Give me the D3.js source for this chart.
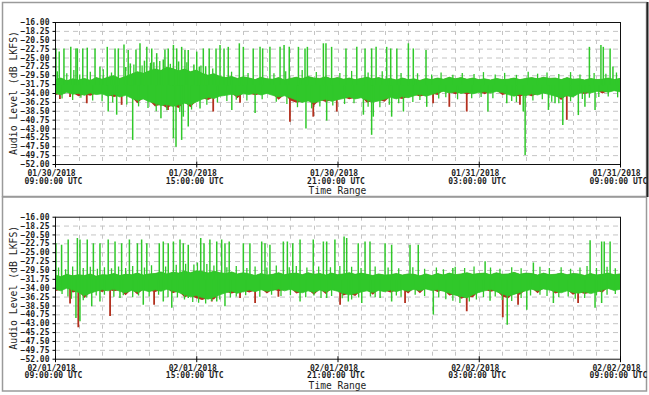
<!DOCTYPE html>
<html>
<head>
<meta charset="utf-8">
<script src="https://cdn.jsdelivr.net/npm/d3@7"></script>
<style>
    body { margin: 0; background: #fff; }
    svg text { fill: #1e1e1e; }
    .tick text { font-family: "DejaVu Sans Mono", monospace; font-size: 8px; font-weight: bold; }
</style>
</head>
<body>
<svg id="chart"></svg>
<script>
// y axis ticks (dB LKFS)
const yTicks = [-16, -18.25, -20.5, -22.75, -25, -27.25, -29.5, -31.75, -34,
    -36.25, -38.5, -40.75, -43, -45.25, -47.5, -49.75, -52];
// x ticks, hours after the start of each panel
const xTickHours = [0, 6, 12, 18, 24];

// panel 1: 01/30/2018 09:00 -> 01/31/2018 09:00, 15 min envelope samples
const p1Top = [-30.6, -30.2, -30.9, -30.4, -30.7,
    -30.3, -30.8, -30.1, -30.5, -30.0, -29.6, -30.3, -29.8,
    -29.2, -28.6, -29.0, -28.4, -27.9, -28.3, -27.5, -27.8,
    -28.4, -27.9, -28.6, -28.2, -29.0, -29.5, -29.1, -29.8,
    -30.1, -29.8, -30.3, -29.9, -30.2, -30.6, -30.0, -30.4,
    -30.5, -30.1, -30.7, -30.3, -30.0, -30.4, -29.8, -30.2,
    -30.3, -29.9, -30.4, -30.1, -30.5, -30.2, -30.6, -30.3,
    -30.0, -30.4, -30.1, -30.5, -30.3, -30.7, -30.2, -30.6,
    -30.4, -30.8, -30.3, -30.6, -30.2, -30.5, -30.0, -30.4,
    -30.1, -30.5, -30.2, -30.6, -30.4, -30.7, -30.3, -30.6,
    -30.5, -30.2, -30.6, -30.3, -30.1, -30.4, -30.0, -30.3,
    -30.2, -30.6, -30.1, -30.5, -30.4, -30.7, -30.3, -30.6,
    -30.5, -30.2, -30.6, -30.3];
const p1Bottom = [-34.0, -34.5, -33.8, -34.3, -34.1,
    -34.6, -34.0, -34.4, -34.2, -34.8, -34.3, -35.0, -34.6,
    -35.3, -35.9, -35.5, -36.2, -36.6, -37.2, -36.9, -37.4,
    -37.0, -36.6, -36.9, -36.3, -35.6, -35.1, -35.4, -34.8,
    -34.6, -34.3, -34.7, -34.2, -34.4, -34.0, -34.5, -34.1,
    -34.6, -35.0, -34.7, -35.2, -35.8, -36.4, -36.0, -36.5,
    -36.0, -35.6, -36.1, -35.7, -35.4, -35.0, -35.5, -35.2,
    -35.8, -36.3, -36.0, -35.6, -35.1, -35.5, -34.9, -35.2,
    -34.7, -34.3, -34.8, -34.4, -33.9, -33.6, -34.0, -33.7,
    -34.1, -33.8, -34.2, -33.9, -33.7, -34.0, -33.6, -33.9,
    -34.4, -34.8, -34.3, -34.7, -34.2, -34.5, -34.0, -34.4,
    -34.8, -35.2, -34.7, -35.0, -34.1, -33.7, -34.0, -33.6,
    -33.5, -33.8, -33.4, -33.7];
const p1Red = [-34.6, -34.2, -33.5, -34.0, -34.8,
    -34.3, -34.7, -34.1, -33.9, -34.5, -35.0, -34.7, -34.3,
    -35.0, -36.6, -35.2, -35.9, -37.4, -36.9, -37.8, -37.1,
    -37.8, -36.3, -37.6, -36.0, -35.3, -35.8, -35.1, -34.5,
    -34.3, -34.0, -35.3, -33.9, -34.1, -34.6, -34.2, -33.8,
    -34.3, -35.7, -34.4, -35.9, -36.5, -36.1, -35.7, -37.2,
    -35.7, -36.3, -35.8, -35.4, -35.1, -35.6, -35.2, -34.9,
    -36.5, -36.0, -35.7, -36.2, -34.8, -35.2, -35.5, -34.9,
    -34.4, -34.9, -34.5, -34.1, -34.5, -33.3, -33.7, -34.3,
    -33.8, -34.4, -33.9, -33.6, -34.3, -33.7, -33.3, -34.5,
    -34.1, -34.5, -34.9, -34.4, -34.8, -34.2, -33.7, -34.1,
    -34.5, -35.8, -34.4, -34.7, -33.8, -34.3, -33.7, -33.3,
    -34.1, -33.5, -33.1, -33.4];
// [hours after start, dB]
const p1Up = [[0.04, -22.7], [0.18, -23.5], [0.38, -22.7], [0.67, -22.3], [0.89, -22.7], [0.95, -22.7],
    [1.18, -22.7], [1.37, -22.5], [1.70, -22.7], [1.91, -27.3], [2.22, -22.3], [2.55, -22.7],
    [2.69, -22.7], [2.93, -21.7], [3.11, -23.1], [3.2, -26.5], [3.44, -23.0], [3.61, -21.4],
    [3.8, -25.8], [3.90, -22.3], [4.11, -22.7], [4.2, -26.2], [4.32, -23.9], [4.6, -25.5],
    [4.67, -23.0], [4.81, -22.7], [5.03, -21.8], [5.17, -22.7], [5.25, -26.0], [5.38, -22.3],
    [5.52, -23.1], [5.66, -23.1], [5.9, -26.8], [6.02, -23.5], [6.13, -27.3], [6.30, -22.7],
    [6.4, -27.2], [6.55, -22.7], [6.84, -22.7], [7.01, -21.8], [7.18, -22.7], [7.36, -22.3],
    [7.83, -21.4], [8.00, -22.3], [8.42, -22.7], [8.71, -22.3], [8.82, -22.7], [9.13, -22.3],
    [9.56, -22.3], [9.73, -21.8], [9.95, -22.3], [10.34, -22.3], [10.62, -22.7], [10.72, -22.3],
    [11.40, -21.4], [11.51, -21.4], [11.75, -22.3], [12.36, -22.7], [12.82, -22.3], [13.17, -22.7],
    [13.45, -22.7], [13.64, -22.3], [14.09, -22.3], [14.26, -22.7], [14.52, -22.7], [15.01, -21.4],
    [15.22, -22.7], [15.76, -23.1], [22.70, -22.3], [23.19, -21.8], [23.29, -22.3], [23.58, -22.7],
    [23.70, -27.3]];
const p1Down = [[2.26, -38.7], [2.62, -39.5], [3.30, -45.9], [4.50, -40.4], [5.03, -45.5], [5.14, -47.6],
    [5.38, -45.9], [5.45, -40.0], [5.66, -42.5], [6.16, -37.9], [7.51, -38.3], [8.50, -39.1],
    [10.66, -43.0], [11.54, -41.0], [13.10, -39.5], [13.45, -44.6], [13.52, -40.0], [14.30, -40.0],
    [14.80, -38.7], [15.79, -37.5], [18.39, -38.7], [19.19, -36.6], [19.89, -38.7], [19.97, -49.7],
    [20.96, -38.3], [21.24, -36.6], [21.57, -42.1], [22.23, -39.6], [22.51, -37.5], [22.94, -38.3]];
// short excursions that make the ragged band edges
const p1UpShort = [[0.1, -28.5], [0.5, -29.0], [0.8, -28.2], [1.05, -29.3], [1.5, -28.6], [2.05, -28.0],
    [2.4, -28.8], [3.0, -27.4], [3.35, -26.8], [3.7, -27.0], [4.05, -26.3], [4.45, -25.9], [4.9, -26.6],
    [5.6, -26.2], [6.2, -27.0], [6.7, -27.8], [7.5, -28.6], [8.2, -28.9], [9.3, -29.0], [9.8, -28.5],
    [10.5, -28.2], [11.1, -28.7], [12.1, -28.9], [12.6, -28.4], [13.3, -28.8], [13.9, -28.5], [14.7, -28.9],
    [15.4, -29.0], [16.0, -29.3], [16.4, -28.8], [16.9, -29.4], [17.3, -28.9], [17.8, -29.2], [18.2, -28.7],
    [18.7, -29.3], [19.1, -28.9], [19.6, -29.4], [20.1, -28.6], [20.5, -29.1], [20.9, -28.8], [21.4, -29.2],
    [21.9, -28.7], [22.3, -29.3], [22.9, -28.9], [23.4, -29.1], [23.85, -28.8]];
const p1DownShort = [[0.3, -35.4], [0.75, -35.8], [1.1, -35.2], [1.6, -35.9], [2.0, -36.1], [2.45, -36.4],
    [3.05, -36.9], [3.55, -37.4], [3.95, -37.8], [4.3, -38.6], [4.75, -38.4], [5.3, -38.8], [5.8, -38.2],
    [6.45, -37.0], [6.9, -36.4], [7.3, -36.0], [7.7, -35.7], [8.15, -35.9], [8.8, -35.6], [9.4, -36.2],
    [9.85, -36.8], [10.3, -37.6], [10.9, -37.9], [11.25, -37.4], [11.8, -37.2], [12.3, -36.8], [12.7, -36.6],
    [13.3, -37.5], [13.8, -37.6], [14.2, -37.0], [14.6, -36.6], [15.2, -36.3], [15.5, -35.8], [16.3, -35.4],
    [16.6, -35.1], [17.1, -35.6], [17.7, -35.3], [18.1, -35.0], [18.6, -35.3], [19.4, -36.0], [19.6, -36.3],
    [20.3, -35.9], [20.7, -35.6], [21.1, -36.2], [21.4, -36.6], [21.9, -36.1], [22.4, -35.5], [22.7, -35.2],
    [23.1, -35.0], [23.5, -34.9], [23.9, -35.1]];
const p1RedDips = [[0.21, -35.5], [0.64, -35.0], [1.35, -36.6], [2.83, -37.0], [4.80, -38.3], [6.72, -38.7],
    [7.86, -36.5], [9.98, -41.3], [10.97, -40.0], [11.97, -38.7], [16.06, -36.6], [16.75, -37.5],
    [17.49, -38.7], [19.75, -37.0], [21.74, -40.8]];

// panel 2: 02/01/2018 09:00 -> 02/02/2018 09:00
const p2Top = [-30.8, -31.2, -30.6, -31.0, -30.7,
    -30.9, -30.5, -31.1, -30.7, -30.8, -30.4, -30.9, -30.6,
    -30.7, -30.3, -30.8, -30.5, -30.4, -30.0, -30.5, -30.1,
    -30.3, -29.8, -30.2, -29.7, -29.9, -30.3, -29.8, -30.2,
    -30.4, -30.0, -30.5, -30.2, -30.5, -30.9, -30.4, -30.8,
    -30.6, -30.2, -30.7, -30.4, -30.3, -30.7, -30.2, -30.6,
    -30.4, -30.8, -30.3, -30.7, -30.5, -30.2, -30.6, -30.3,
    -30.6, -30.9, -30.5, -30.8, -30.7, -30.4, -30.8, -30.5,
    -30.6, -31.0, -30.5, -30.9, -30.4, -30.8, -30.3, -30.7,
    -30.5, -30.2, -30.6, -30.4, -30.3, -30.7, -30.2, -30.6,
    -30.5, -30.1, -30.6, -30.3, -30.4, -30.8, -30.3, -30.7,
    -30.6, -30.3, -30.7, -30.4, -30.5, -30.9, -30.4, -30.8,
    -30.6, -30.3, -30.7, -30.5];
const p2Bottom = [-34.3, -34.8, -34.1, -34.6, -35.2,
    -36.0, -35.4, -34.9, -34.5, -34.8, -34.3, -34.9, -35.3,
    -34.7, -35.1, -34.6, -35.0, -34.5, -34.9, -34.4, -34.8,
    -35.2, -35.8, -36.3, -36.0, -36.5, -36.9, -36.4, -35.8,
    -35.3, -34.9, -35.4, -35.0, -34.6, -35.0, -34.5, -34.9,
    -34.7, -34.3, -34.8, -34.4, -34.9, -35.3, -34.8, -35.2,
    -34.6, -35.0, -34.5, -34.9, -35.4, -35.8, -35.5, -35.1,
    -34.8, -35.2, -34.7, -35.0, -34.6, -35.0, -34.5, -34.9,
    -34.4, -34.8, -34.3, -34.7, -34.5, -34.9, -35.4, -35.9,
    -36.2, -36.6, -35.8, -35.2, -34.8, -34.4, -35.0, -35.6,
    -36.1, -35.7, -35.2, -34.8, -34.4, -34.8, -34.3, -34.6,
    -34.9, -35.3, -34.8, -35.2, -35.4, -35.0, -35.5, -35.1,
    -34.6, -34.2, -34.7, -34.4];
const p2Red = [-34.9, -34.5, -33.8, -35.2, -34.9,
    -36.6, -35.1, -34.6, -35.1, -34.5, -34.9, -34.6, -35.9,
    -34.4, -35.7, -34.3, -34.7, -35.1, -34.6, -34.1, -35.4,
    -34.9, -36.4, -36.0, -36.7, -37.1, -36.6, -37.0, -35.5,
    -35.0, -35.5, -35.1, -34.7, -35.2, -34.7, -34.2, -35.5,
    -34.4, -34.9, -34.5, -34.1, -35.5, -35.0, -34.5, -35.8,
    -34.3, -35.6, -34.2, -34.6, -36.0, -35.5, -36.1, -34.8,
    -34.5, -35.8, -34.4, -34.7, -35.2, -34.7, -34.2, -35.5,
    -34.1, -35.4, -34.0, -34.4, -35.1, -34.6, -36.0, -35.6,
    -36.8, -36.3, -36.4, -34.9, -34.5, -35.0, -34.7, -36.2,
    -36.7, -35.4, -35.8, -34.5, -34.1, -35.4, -34.0, -34.3,
    -35.5, -35.0, -34.5, -35.8, -35.1, -35.6, -35.2, -34.8,
    -35.2, -33.9, -34.4, -34.1];
const p2Up = [[0.04, -22.7], [0.28, -23.1], [0.56, -21.8], [0.95, -21.4], [1.06, -21.8], [1.37, -21.8],
    [1.63, -22.7], [1.91, -22.7], [2.26, -21.8], [2.55, -22.3], [2.83, -22.7], [3.16, -21.8],
    [3.50, -22.7], [3.68, -21.8], [3.90, -22.7], [4.43, -22.7], [4.60, -22.3], [4.81, -22.7],
    [5.03, -22.3], [5.31, -21.8], [5.45, -22.7], [5.66, -23.1], [6.19, -21.4], [6.33, -22.7],
    [6.58, -21.8], [6.87, -22.3], [7.08, -21.8], [7.22, -22.7], [7.40, -22.3], [8.00, -22.7],
    [8.28, -22.7], [8.78, -22.3], [8.92, -22.7], [9.13, -23.1], [9.70, -22.3], [9.87, -22.3],
    [10.10, -22.7], [10.41, -21.8], [10.97, -21.8], [11.40, -22.3], [11.54, -22.3], [11.89, -21.8],
    [12.28, -21.0], [12.39, -21.4], [12.88, -22.7], [13.17, -22.3], [13.38, -22.3], [14.02, -22.7],
    [14.30, -23.1], [15.08, -23.1], [15.43, -23.1], [16.9, -29.0], [18.27, -27.3], [20.32, -27.6],
    [22.73, -22.0], [23.22, -22.3], [23.33, -22.3], [23.58, -22.3]];
const p2Down = [[0.89, -41.7], [1.06, -42.5], [1.56, -38.7], [1.91, -37.5], [2.76, -36.6], [3.75, -38.3],
    [4.60, -37.5], [4.96, -39.1], [5.66, -36.6], [6.87, -37.5], [7.22, -38.7], [10.41, -37.5],
    [11.54, -36.6], [12.46, -37.5], [13.03, -37.9], [13.81, -36.6], [14.30, -37.5], [16.07, -40.8],
    [18.48, -37.3], [19.21, -43.4], [20.04, -39.6], [21.17, -37.9], [22.94, -39.1], [23.22, -37.9]];
const p2UpShort = [[0.15, -28.9], [0.45, -29.3], [0.75, -28.6], [1.2, -29.0], [1.5, -28.7], [1.8, -29.2],
    [2.1, -28.8], [2.4, -29.1], [2.7, -28.6], [3.0, -29.0], [3.3, -28.5], [3.8, -28.9], [4.1, -28.3],
    [4.7, -28.6], [5.15, -28.2], [5.55, -27.9], [5.9, -28.1], [6.05, -27.6], [6.45, -28.0], [6.75, -28.4],
    [7.3, -28.8], [7.7, -28.5], [8.15, -29.0], [8.5, -28.6], [9.0, -28.9], [9.4, -28.4], [9.95, -28.8],
    [10.25, -28.5], [10.7, -28.9], [11.2, -28.6], [11.7, -28.8], [12.1, -28.5], [12.6, -28.7], [13.0, -29.0],
    [13.6, -28.6], [14.15, -28.9], [14.6, -29.1], [15.2, -28.8], [15.7, -29.2], [16.2, -28.9], [16.5, -29.3],
    [17.0, -28.7], [17.4, -29.0], [17.8, -28.6], [18.5, -28.9], [18.9, -29.2], [19.4, -28.8], [19.8, -29.1],
    [20.6, -28.7], [21.0, -29.0], [21.5, -28.8], [21.9, -29.2], [22.3, -28.9], [22.6, -28.5], [23.0, -29.0],
    [23.45, -28.7], [23.8, -29.1]];
const p2DownShort = [[0.3, -35.6], [0.55, -36.2], [0.7, -36.8], [1.2, -37.2], [1.35, -36.5], [1.75, -36.0],
    [2.1, -35.8], [2.5, -36.3], [2.9, -35.9], [3.3, -36.4], [3.55, -36.0], [4.0, -36.2], [4.4, -35.8],
    [4.8, -36.4], [5.2, -36.5], [5.5, -37.0], [5.85, -37.6], [6.1, -37.8], [6.4, -38.0], [6.65, -37.4],
    [7.0, -37.0], [7.45, -36.5], [7.7, -36.2], [8.1, -35.9], [8.7, -36.3], [9.2, -35.8], [9.6, -36.1],
    [10.0, -35.9], [10.65, -36.4], [11.0, -36.0], [11.3, -36.6], [11.75, -36.1], [12.2, -36.7], [12.6, -37.0],
    [12.9, -36.5], [13.4, -36.2], [13.6, -36.4], [14.5, -36.0], [14.7, -36.3], [15.3, -35.8], [15.7, -36.1],
    [16.3, -36.5], [16.6, -36.9], [16.9, -37.3], [17.2, -37.9], [17.6, -37.5], [17.9, -37.0], [18.2, -36.4],
    [18.7, -36.2], [19.0, -37.1], [19.4, -37.4], [19.8, -36.6], [20.2, -36.0], [20.6, -35.8], [20.9, -36.1],
    [21.4, -36.4], [21.8, -36.2], [22.1, -36.8], [22.5, -36.6], [23.0, -36.0], [23.45, -35.8], [23.8, -35.6]];
const p2RedDips = [[0.64, -38.0], [0.99, -44.0], [2.34, -41.2], [4.21, -38.3], [6.66, -37.5], [7.86, -36.6],
    [8.50, -37.9], [9.49, -36.3], [12.11, -38.3], [14.87, -37.9], [17.49, -40.0], [19.02, -41.5],
    [19.67, -38.3], [22.22, -37.9]];

const panels = [
    { start: Date.UTC(2018, 0, 30, 9), top: p1Top, bottom: p1Bottom, red: p1Red, up: p1Up, down: p1Down,
      upShort: p1UpShort, downShort: p1DownShort, dips: p1RedDips, offset: 0 },
    { start: Date.UTC(2018, 1, 1, 9), top: p2Top, bottom: p2Bottom, red: p2Red, up: p2Up, down: p2Down,
      upShort: p2UpShort, downShort: p2DownShort, dips: p2RedDips, offset: 194.7 }
];

const W = 649, H = 395;
const plot = { left: 55, right: 620, top: 22, bottom: 164 };
const green = "#30c82a", red = "#b3301e";
const HOUR = 3600e3;

const svg = d3.select("#chart").attr("width", W).attr("height", H);
const fmtDate = d3.utcFormat("%m/%d/%Y");
const fmtTime = d3.utcFormat("%H:%M:%S UTC");

panels.forEach((p, pi) => {
    const g = svg.append("g").attr("transform", "translate(0," + p.offset + ")");

    // panel frame
    g.append("rect")
        .attr("x", 2.5).attr("y", pi === 0 ? 2.5 : 2.3)
        .attr("width", 644).attr("height", 194)
        .attr("fill", "none").attr("stroke", "#9a9a9a").attr("stroke-width", 1.5);

    const x = d3.scaleUtc()
        .domain([new Date(p.start), new Date(p.start + 24 * HOUR)])
        .range([plot.left, plot.right]);
    const y = d3.scaleLinear()
        .domain([-52, -16])
        .range([plot.bottom, plot.top]);
    const t = h => new Date(p.start + h * HOUR);

    // dashed grid
    g.append("g").selectAll("line")
        .data(yTicks.slice(1, -1))
        .join("line")
        .attr("x1", plot.left).attr("x2", plot.right)
        .attr("y1", d => y(d) + 0.5).attr("y2", d => y(d) + 0.5)
        .attr("stroke", "#c4c4c4").attr("stroke-dasharray", "5,4");
    g.append("g").selectAll("line")
        .data(d3.utcHour.every(1).range(x.domain()[0], x.domain()[1]).slice(1))
        .join("line")
        .attr("x1", d => Math.round(x(d)) + 0.5).attr("x2", d => Math.round(x(d)) + 0.5)
        .attr("y1", plot.top).attr("y2", plot.bottom)
        .attr("stroke", "#c4c4c4").attr("stroke-dasharray", "4,5");

    const clipId = "clip" + pi;
    g.append("clipPath").attr("id", clipId)
        .append("rect").attr("x", plot.left).attr("y", plot.top)
        .attr("width", plot.right - plot.left).attr("height", plot.bottom - plot.top);
    const marks = g.append("g").attr("clip-path", "url(#" + clipId + ")");

    const pts = p.top.map((v, i) => ({ t: new Date(p.start + i * 15 * 60e3), hi: v, lo: p.bottom[i], red: p.red[i] }));

    const spikes = (data, base, color, width) => marks.append("g").selectAll("line")
        .data(data)
        .join("line")
        .attr("x1", d => x(t(d[0]))).attr("x2", d => x(t(d[0])))
        .attr("y1", y(base)).attr("y2", d => y(d[1]))
        .attr("stroke", color).attr("stroke-width", width);

    // red series (mostly hidden under green)
    marks.append("path")
        .datum(pts)
        .attr("fill", red)
        .attr("d", d3.area().x(d => x(d.t)).y0(d => y(d.red)).y1(d => y(d.hi)));
    spikes(p.dips, -33, red, 1.8);

    // green series
    marks.append("path")
        .datum(pts)
        .attr("fill", green).attr("stroke", green).attr("stroke-width", 0.8)
        .attr("d", d3.area().x(d => x(d.t)).y0(d => y(d.lo)).y1(d => y(d.hi)));
    spikes(p.downShort, -32, green, 1.3);
    spikes(p.upShort, -32, green, 1.3);
    spikes(p.down, -32, green, 1.5);
    spikes(p.up, -32, green, 1.5);

    // plot border
    g.append("rect")
        .attr("x", plot.left + 0.5).attr("y", plot.top + 0.5)
        .attr("width", plot.right - plot.left).attr("height", plot.bottom - plot.top)
        .attr("fill", "none").attr("stroke", "#111");

    // y axis
    g.append("g")
        .attr("transform", "translate(" + (plot.left + 0.5) + ",0)")
        .call(d3.axisLeft(y).tickValues(yTicks).tickSize(3).tickPadding(3).tickFormat(d3.format(".2f")))
        .call(a => a.select(".domain").remove());

    // x axis, two line labels
    const xAxis = g.append("g")
        .attr("transform", "translate(0," + (plot.bottom + 0.5) + ")")
        .call(d3.axisBottom(x).tickValues(xTickHours.map(t)).tickSize(3));
    xAxis.select(".domain").remove();
    xAxis.selectAll(".tick line").attr("y1", -3);
    xAxis.selectAll(".tick text").each(function (d) {
        const txt = d3.select(this).text(null).attr("y", 0).attr("dy", null);
        txt.append("tspan").attr("x", -4).attr("y", 11.5).text(fmtDate(d));
        txt.append("tspan").attr("x", -2).attr("y", 19.3).text(fmtTime(d));
    });

    g.append("text")
        .attr("x", (plot.left + plot.right) / 2).attr("y", 194.2)
        .attr("text-anchor", "middle")
        .style("font-family", "'DejaVu Sans Mono', monospace").style("font-size", "9.6px")
        .text("Time Range");

    g.append("text")
        .attr("transform", "translate(16.5," + ((plot.top + plot.bottom) / 2) + ") rotate(-90)")
        .attr("text-anchor", "middle")
        .style("font-family", "'DejaVu Sans Mono', monospace").style("font-size", "9.8px")
        .text("Audio Level (dB LKFS)");
});

// darker right edge on the upper panel
svg.append("line")
    .attr("x1", 647.5).attr("x2", 647.5).attr("y1", 2).attr("y2", 197)
    .attr("stroke", "#222").attr("stroke-width", 2);
</script>
</body>
</html>
